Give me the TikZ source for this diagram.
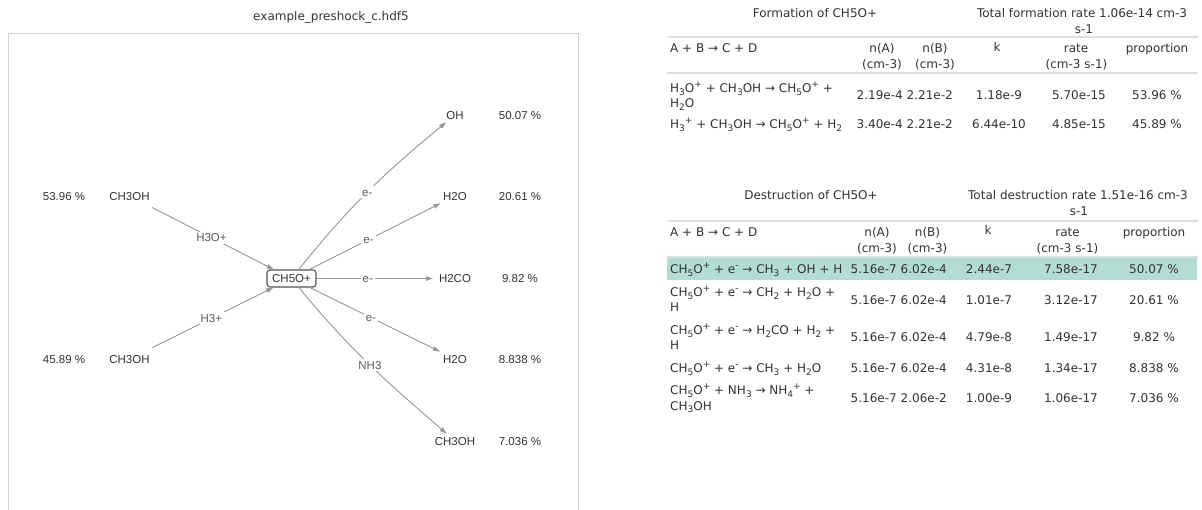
\documentclass[tikz,border=0pt]{standalone}
\usepackage{fontspec}
\setmainfont{DejaVu Sans}
\newfontfamily\graphfont{Liberation Sans}
\usetikzlibrary{arrows.meta}

\definecolor{inkc}{RGB}{51,51,51}
\definecolor{edgec}{RGB}{150,150,150}
\definecolor{elabc}{RGB}{90,90,90}
\definecolor{framec}{RGB}{212,212,212}
\definecolor{rulec}{RGB}{222,222,222}
\definecolor{hilite}{RGB}{179,220,213}

% chemical sub- and superscripts, a little larger than the default script size
\newcommand{\chsub}[1]{\raisebox{-2.6pt}{\fontsize{9}{10}\selectfont #1}}
\newcommand{\chsup}[1]{\raisebox{4.6pt}{\fontsize{9}{10}\selectfont #1}}

\begin{document}
\begin{tikzpicture}[x=1pt, y=-1pt,
  gnode/.style={font=\graphfont\fontsize{11.5}{13}\selectfont, text=inkc,
    inner sep=3pt, text height=8.3pt, text depth=0pt},
  centre/.style={gnode, draw=black!68, line width=1.1pt, rounded corners=3pt,
    fill=white, minimum width=49pt, minimum height=17pt, inner sep=2pt},
  elabel/.style={gnode, text=elabc, fill=white, inner sep=2pt},
  edge/.style={draw=edgec, line width=0.9pt,
    -{Triangle[length=7pt,width=4.6pt]}},
  cell/.style={font=\fontsize{12}{15}\selectfont, text=inkc, inner sep=0pt, anchor=base},
  lcell/.style={cell, anchor=base west},
  rcell/.style={cell, anchor=base east},
  rulel/.style={draw=rulec, line width=2pt}
]
\fill[white] (0,0) rectangle (1202,509);
\useasboundingbox (0,0) rectangle (1202,509);

% ---------- reaction graph ----------
\node[cell] (title) at (331,20.5) {example\_preshock\_c.hdf5};
\draw[framec, line width=1pt] (8,512) -- (8,33) -- (578,33) -- (578,512);

\node[gnode] (pa) at (64,196) {53.96 \%};
\node[gnode] (ra) at (129.5,196) {CH3OH};
\node[gnode] (pb) at (64,359) {45.89 \%};
\node[gnode] (rb) at (129.5,359) {CH3OH};

\node[centre] (c) at (291.5,278.5) {CH5O+};

\node[gnode] (p1) at (455,115) {OH};
\node[gnode] (q1) at (520,115) {50.07 \%};
\node[gnode] (p2) at (455,196) {H2O};
\node[gnode] (q2) at (520,196) {20.61 \%};
\node[gnode] (p3) at (455,278.5) {H2CO};
\node[gnode] (q3) at (520,278.5) {9.82 \%};
\node[gnode] (p4) at (455,359) {H2O};
\node[gnode] (q4) at (520,359) {8.838 \%};
\node[gnode] (p5) at (455,441) {CH3OH};
\node[gnode] (q5) at (520,441) {7.036 \%};

\draw[edge, shorten <=9pt] (ra) -- node[elabel, pos=0.52] (la) {H3O+} (c);
\draw[edge, shorten <=9pt] (rb) -- node[elabel, pos=0.52] (lb) {H3+} (c);
\draw[edge] (c) .. controls (349,207) and (382,175) .. (p1)
  node[elabel, pos=0.5] (l1) {e-};
\draw[edge] (c) -- node[elabel, pos=0.45] (l2) {e-} (p2);
\draw[edge, shorten >=3pt] (c) -- node[elabel, pos=0.43] (l3) {e-} (p3);
\draw[edge] (c) -- node[elabel, pos=0.47] (l4) {e-} (p4);
\draw[edge] (c) .. controls (352,352) and (386,381) .. (p5)
  node[elabel, pos=0.5] (l5) {NH3};

% ---------- formation table ----------
\node[cell] (ft) at (815,17.5) {Formation of CH5O+};
\node[cell] (fr) at (1082,17.5) {Total formation rate 1.06e-14 cm-3};
\node[cell] (fu) at (1084,33) {s-1};
\draw[rulel] (667,37) -- (1198,37);

\node[lcell] (fh1) at (670,52.5) {A + B → C + D};
\node[cell] (fh2) at (882,52.5) {n(A)};
\node[cell] (fh2b) at (882,68.5) {(cm-3)};
\node[cell] (fh3) at (935,52.5) {n(B)};
\node[cell] (fh3b) at (935,68.5) {(cm-3)};
\node[cell] (fh4) at (997,51) {k};
\node[cell] (fh5) at (1076,52.5) {rate};
\node[cell] (fh5b) at (1076.5,68.5) {(cm-3 s-1)};
\node[cell] (fh6) at (1157,52.5) {proportion};
\draw[rulel] (667,73) -- (1198,73);

\node[lcell] (f1a) at (670,92.5) {H\chsub{3}O\chsup{+} + CH\chsub{3}OH → CH\chsub{5}O\chsup{+} +};
\node[lcell] (f1b) at (670,107.5) {H\chsub{2}O};
\node[rcell] (f1c) at (903,99.5) {2.19e-4};
\node[rcell] (f1d) at (953,99.5) {2.21e-2};
\node[cell] (f1e) at (999,99.5) {1.18e-9};
\node[cell] (f1f) at (1079,99.5) {5.70e-15};
\node[cell] (f1g) at (1157,99.5) {53.96 \%};

\node[lcell] (f2a) at (670,128.5) {H\chsub{3}\chsup{+} + CH\chsub{3}OH → CH\chsub{5}O\chsup{+} + H\chsub{2}};
\node[rcell] (f2c) at (903,128.5) {3.40e-4};
\node[rcell] (f2d) at (953,128.5) {2.21e-2};
\node[cell] (f2e) at (999,128.5) {6.44e-10};
\node[cell] (f2f) at (1079,128.5) {4.85e-15};
\node[cell] (f2g) at (1157,128.5) {45.89 \%};

% ---------- destruction table ----------
\node[cell] (dt) at (811,199.5) {Destruction of CH5O+};
\node[cell] (dr) at (1078,199.5) {Total destruction rate 1.51e-16 cm-3};
\node[cell] (du) at (1079,215.5) {s-1};
\draw[rulel] (667,221) -- (1198,221);

\node[lcell] (dh1) at (670,236) {A + B → C + D};
\node[cell] (dh2) at (877,236) {n(A)};
\node[cell] (dh2b) at (877,252) {(cm-3)};
\node[cell] (dh3) at (927.5,236) {n(B)};
\node[cell] (dh3b) at (927.5,252) {(cm-3)};
\node[cell] (dh4) at (988,234.5) {k};
\node[cell] (dh5) at (1067.5,236) {rate};
\node[cell] (dh5b) at (1067.5,252) {(cm-3 s-1)};
\node[cell] (dh6) at (1154,236) {proportion};
\draw[rulel] (667,256.5) -- (1198,256.5);
\fill[hilite] (667,257.5) rectangle (1197,279.5);

\node[lcell] (d1a) at (670,273.5) {CH\chsub{5}O\chsup{+} + e\chsup{-} → CH\chsub{3} + OH + H};
\node[rcell] (d1c) at (897,273.5) {5.16e-7};
\node[rcell] (d1d) at (947,273.5) {6.02e-4};
\node[cell] (d1e) at (989,273.5) {2.44e-7};
\node[cell] (d1f) at (1071,273.5) {7.58e-17};
\node[cell] (d1g) at (1154,273.5) {50.07 \%};

\node[lcell] (d2a) at (670,296.5) {CH\chsub{5}O\chsup{+} + e\chsup{-} → CH\chsub{2} + H\chsub{2}O +};
\node[lcell] (d2b) at (670,311.5) {H};
\node[rcell] (d2c) at (897,304) {5.16e-7};
\node[rcell] (d2d) at (947,304) {6.02e-4};
\node[cell] (d2e) at (989,304) {1.01e-7};
\node[cell] (d2f) at (1071,304) {3.12e-17};
\node[cell] (d2g) at (1154,304) {20.61 \%};

\node[lcell] (d3a) at (670,334.5) {CH\chsub{5}O\chsup{+} + e\chsup{-} → H\chsub{2}CO + H\chsub{2} +};
\node[lcell] (d3b) at (670,349.5) {H};
\node[rcell] (d3c) at (897,341.5) {5.16e-7};
\node[rcell] (d3d) at (947,341.5) {6.02e-4};
\node[cell] (d3e) at (989,341.5) {4.79e-8};
\node[cell] (d3f) at (1071,341.5) {1.49e-17};
\node[cell] (d3g) at (1154,341.5) {9.82 \%};

\node[lcell] (d4a) at (670,372.5) {CH\chsub{5}O\chsup{+} + e\chsup{-} → CH\chsub{3} + H\chsub{2}O};
\node[rcell] (d4c) at (897,372.5) {5.16e-7};
\node[rcell] (d4d) at (947,372.5) {6.02e-4};
\node[cell] (d4e) at (989,372.5) {4.31e-8};
\node[cell] (d4f) at (1071,372.5) {1.34e-17};
\node[cell] (d4g) at (1154,372.5) {8.838 \%};

\node[lcell] (d5a) at (670,394.5) {CH\chsub{5}O\chsup{+} + NH\chsub{3} → NH\chsub{4}\chsup{+} +};
\node[lcell] (d5b) at (670,410) {CH\chsub{3}OH};
\node[rcell] (d5c) at (897,402.5) {5.16e-7};
\node[rcell] (d5d) at (947,402.5) {2.06e-2};
\node[cell] (d5e) at (989,402.5) {1.00e-9};
\node[cell] (d5f) at (1071,402.5) {1.06e-17};
\node[cell] (d5g) at (1154,402.5) {7.036 \%};
\end{tikzpicture}
\end{document}
